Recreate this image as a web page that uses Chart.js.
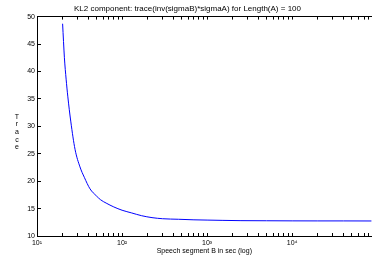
<!DOCTYPE html>
<html>
<head>
<meta charset="utf-8">
<script src="https://cdn.jsdelivr.net/npm/chart.js@4/dist/chart.umd.min.js"></script>
<style>
  body { margin: 0; background: #fff; }
  #wrap { width: 375px; height: 256px; position: relative; }
</style>
</head>
<body>
<div id="wrap"><canvas id="c"></canvas></div>
<script>
// segment length of B (sec) and the trace
const segB = [20, 21, 22, 23, 25, 28, 32, 36, 42, 50, 56, 65, 80, 100, 130, 170, 225, 300, 460, 700, 1000, 1500, 2500, 5000, 10000, 20000, 40000, 86000];
const trace = [48.7, 42.5, 38.6, 35.5, 30.8, 25.8, 22.6, 20.7, 18.6, 17.3, 16.6, 16.0, 15.3, 14.7, 14.2, 13.7, 13.35, 13.15, 13.05, 12.95, 12.9, 12.85, 12.8, 12.78, 12.76, 12.75, 12.75, 12.74];

const xMin = 10, xMax = 86000;
const yMin = 10, yMax = 50, yStep = 5;
const decadeLabels = { 10: '10\u00B9', 100: '10\u00B2', 1000: '10\u00B3', 10000: '10\u2074' };
const titleText = 'KL2 component: trace(inv(sigmaB)*sigmaA) for Length(A) = 100';
const xTitle = 'Speech segment B in sec (log)';
const yTitle = 'Trace';

const FONT = '"Liberation Sans", Arial, Helvetica, sans-serif';

// log ticks: 1..9 in every decade
function logTicks() {
  const out = [];
  for (let d = xMin; d <= xMax; d *= 10) {
    for (let m = 1; m <= 9; m++) {
      const v = d * m;
      if (v <= xMax) out.push({ value: v });
    }
  }
  return out;
}

// stacked y label, matlab style
const stackedLabel = {
  id: 'stackedLabel',
  afterDraw(chart) {
    const ctx = chart.ctx;
    ctx.save();
    ctx.fillStyle = '#000';
    ctx.font = '7px ' + FONT;
    ctx.textAlign = 'center';
    ctx.textBaseline = 'middle';
    const letters = yTitle.split('');
    letters.forEach((ch, i) => {
      ctx.fillText(ch, 17, 132 + (i - (letters.length - 1) / 2) * 7.6);
    });
    ctx.restore();
  }
};

// inward tick marks, no grid in the plot
const inwardGrid = { display: true, drawOnChartArea: false, drawTicks: true, tickLength: -3, color: '#000000', lineWidth: 1 };
const blackBorder = { display: true, color: '#000000', width: 1 };

new Chart(document.getElementById('c'), {
  type: 'line',
  data: {
    datasets: [{
      data: segB.map((x, i) => ({ x: x, y: trace[i] })),
      borderColor: '#0000ff',
      borderWidth: 1,
      pointRadius: 0,
      cubicInterpolationMode: 'monotone'
    }]
  },
  options: {
    responsive: true,
    maintainAspectRatio: false,
    animation: false,
    plugins: {
      legend: { display: false },
      title: {
        display: true,
        text: titleText,
        color: '#000',
        font: { family: FONT, size: 8, weight: 'normal' },
        padding: { top: 4, bottom: 3 }
      }
    },
    scales: {
      x: {
        type: 'logarithmic',
        min: xMin,
        max: xMax,
        afterBuildTicks: s => { s.ticks = logTicks(); },
        afterFit: s => { s.height = 20; },
        grid: inwardGrid,
        border: blackBorder,
        ticks: {
          autoSkip: false,
          maxRotation: 0,
          padding: 6,
          color: '#000',
          font: { family: FONT, size: 7 },
          callback: v => decadeLabels[v] || ''
        },
        title: {
          display: true,
          text: xTitle,
          color: '#000',
          font: { family: FONT, size: 7 },
          padding: { top: 0, bottom: 1 }
        }
      },
      xTop: {
        type: 'logarithmic',
        position: 'top',
        min: xMin,
        max: xMax,
        afterBuildTicks: s => { s.ticks = logTicks(); },
        afterFit: s => { s.height = 0; },
        grid: inwardGrid,
        border: blackBorder,
        ticks: { display: false }
      },
      y: {
        min: yMin,
        max: yMax,
        afterFit: s => { s.width = 37; },
        grid: { ...inwardGrid, tickLength: -4 },
        border: blackBorder,
        ticks: {
          stepSize: yStep,
          padding: 6,
          color: '#000',
          font: { family: FONT, size: 7 }
        }
      }
    }
  },
  plugins: [stackedLabel]
});
</script>
</body>
</html>
